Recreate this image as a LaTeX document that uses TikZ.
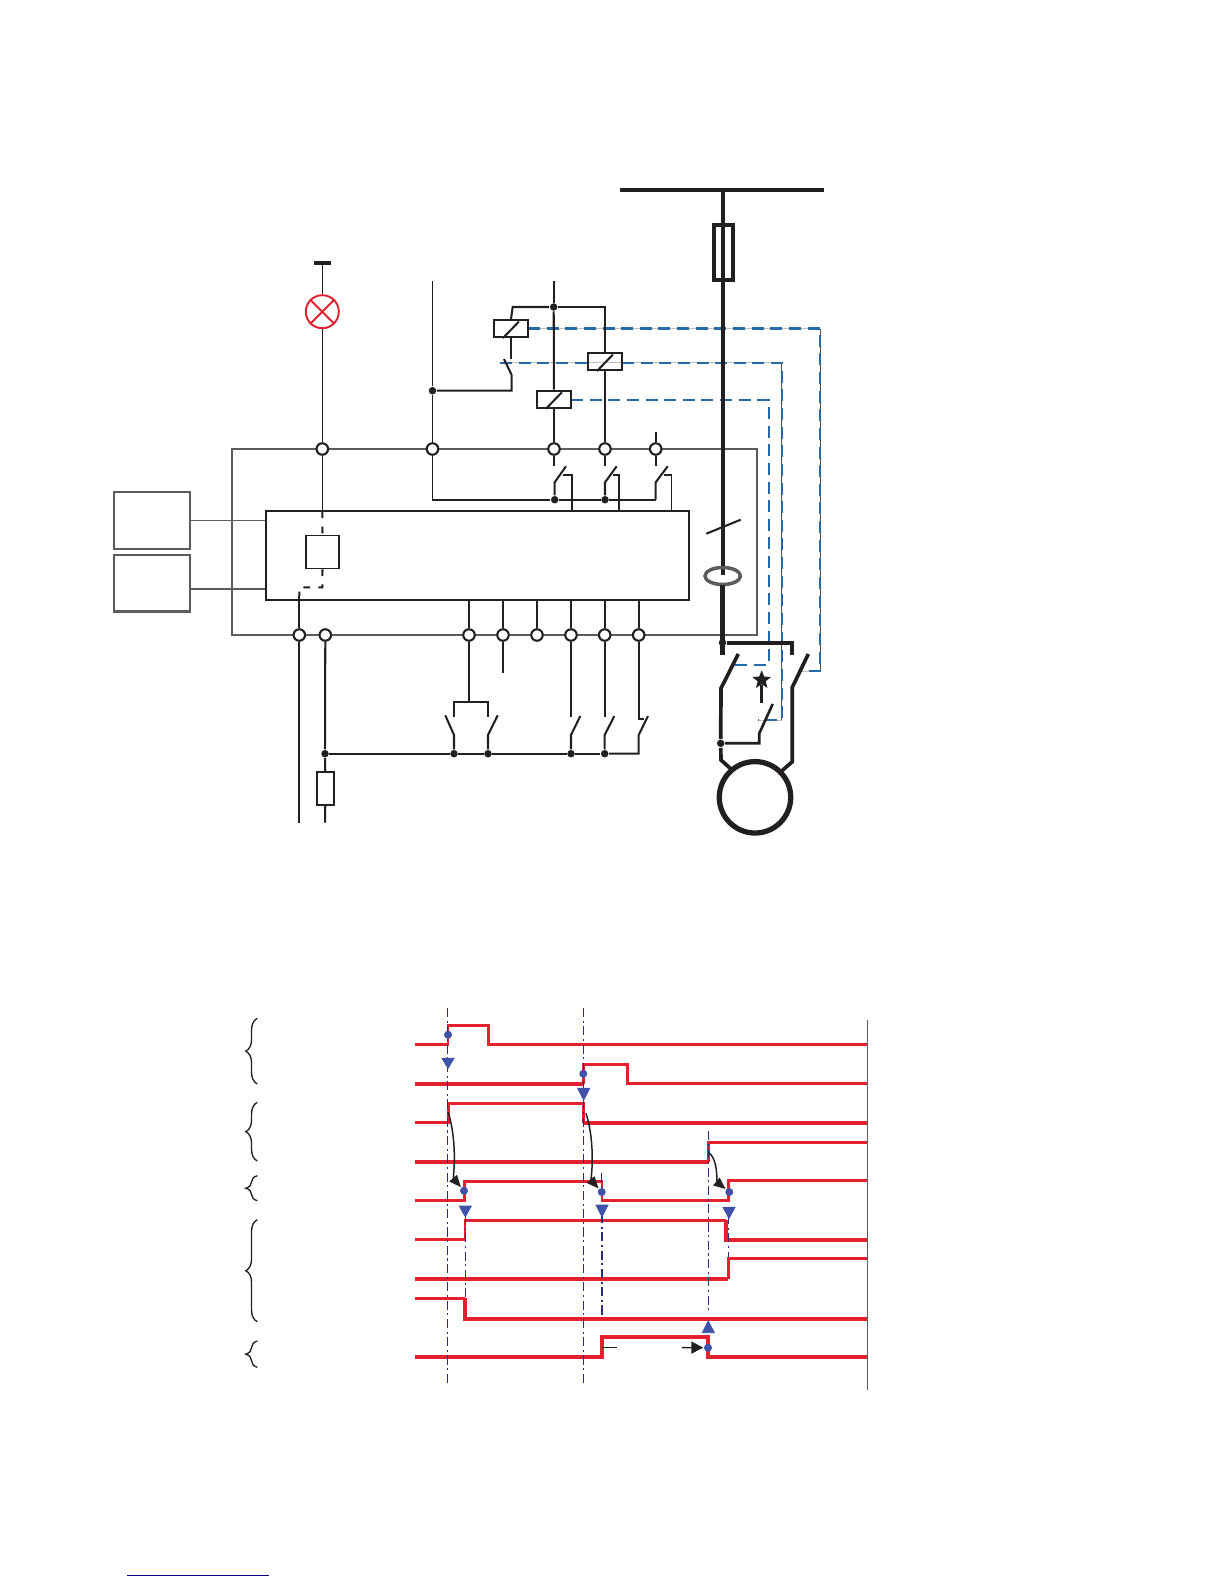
\documentclass[tikz,border=0pt]{standalone}
\usetikzlibrary{shapes.geometric,arrows.meta,decorations.pathreplacing}
\definecolor{tracered}{HTML}{E2202E}
\definecolor{markblue}{HTML}{3F51A8}
\definecolor{linkblue}{HTML}{2469A8}
\definecolor{cutnavy}{HTML}{2B2B80}
\definecolor{ink}{HTML}{231F20}
\definecolor{framegray}{HTML}{5C5C5E}
\begin{document}
\begin{tikzpicture}[x=0.01cm,y=-0.01cm]

    \tikzset{
      wire/.style={color=ink,line width=0.58pt},
      finewire/.style={color=ink,line width=0.42pt},
      power/.style={color=ink,line width=1.05pt},
      mainbus/.style={color=ink,line width=1.2pt},
      frame/.style={color=framegray,line width=0.6pt},
      linkdash/.style={color=linkblue,line width=0.6pt,dash pattern=on 3.4pt off 1.9pt},
      linkback/.style={color=black!70,line width=0.16pt},
      linkpale/.style={color=black!25,line width=0.2pt},
      inner/.style={wire,dash pattern=on 1.9pt off 2.4pt},
      terminal/.style={circle,draw=ink,fill=white,line width=0.6pt,inner sep=0pt,minimum size=1.15mm},
      joint/.style={circle,fill=ink,inner sep=0pt,minimum size=0.75mm},
      coil/.style={rectangle,draw=ink,line width=0.62pt,inner sep=0pt,minimum width=3.4mm,minimum height=1.7mm},
      sidebox/.style={rectangle,draw=framegray,line width=0.6pt,inner sep=0pt,minimum width=7.6mm,minimum height=5.65mm},
      trace/.style={color=tracered,line width=0.85pt},
      tracethick/.style={color=tracered,line width=1.1pt},
      cut/.style={color=cutnavy,line width=0.3pt,dash pattern=on 2.6pt off 1pt on 0.6pt off 1pt},
      marker/.style={circle,fill=markblue,inner sep=0pt,minimum size=0.8mm},
      pointer/.style={fill=markblue,draw=markblue,line width=0.25pt},
      delay/.style={color=ink,line width=0.42pt,-{Triangle[length=3.4pt,width=2.8pt]}},
      curly/.style={color=ink,line width=0.38pt,decorate,decoration={brace,amplitude=1.15mm}},
    }
    \useasboundingbox (0,0) rectangle (1224,1584);

    \draw[frame] (232,449) rectangle (757,635);

    \draw[linkpale] (528,328.5)--(820,328.5);
    \draw[linkback] (820,328.5)--(820,671);
    \draw[linkpale] (820,671)--(798,671);
    \draw[linkpale] (500,362.7)--(781.7,362.7);
    \draw[linkback] (781.7,362.7)--(781.7,720.3);
    \draw[linkpale] (781.7,720.3)--(758,720.3);
    \draw[linkdash] (528,328.5)--(820,328.5)--(820,671)--(798,671);
    \draw[linkdash] (500,362.7)--(588,362.7);
    \draw[linkdash] (622,362.7)--(781.7,362.7)--(781.7,720.3)--(758,720.3);
    \draw[linkdash] (571,400)--(769,400)--(769,664.7)--(731.7,664.7);

    \node[terminal] (ttop1) at (322.3,449) {};
    \node[terminal] (ttop2) at (432.5,449) {};
    \node[terminal] (ttop3) at (554,449) {};
    \node[terminal] (ttop4) at (605,449) {};
    \node[terminal] (ttop5) at (655.7,449) {};
    \node[terminal] (tlow1) at (299.3,635) {};
    \node[terminal] (tlow2) at (325.3,635) {};
    \node[terminal] (tlow3) at (469,635) {};
    \node[terminal] (tlow4) at (503,635) {};
    \node[terminal] (tlow5) at (537,635) {};
    \node[terminal] (tlow6) at (571,635) {};
    \node[terminal] (tlow7) at (604.7,635) {};
    \node[terminal] (tlow8) at (638.7,635) {};

    \node[rectangle,fill=ink,inner sep=0pt,minimum width=1.7mm,minimum height=0.4mm] (lampbar) at (322.3,262.7) {};
    \node[circle,draw=tracered,line width=0.55pt,inner sep=0pt,minimum size=3.3mm] (lamp) at (322.3,311.7) {};
    \draw[color=tracered,line width=0.55pt] (lamp.45)--(lamp.225);
    \draw[color=tracered,line width=0.55pt] (lamp.135)--(lamp.315);
    \draw[finewire] (lampbar)--(lamp);
    \draw[finewire] (lamp)--(ttop1);

    \node[rectangle,draw=ink,line width=0.62pt,inner sep=0pt,minimum width=42.3mm,minimum height=8.9mm] (relay) at (477.5,555.5) {};
    \node[rectangle,draw=ink,line width=0.48pt,inner sep=0pt,minimum size=3.3mm] (output) at (322.5,552) {};
    \draw[finewire] (ttop1)--(ttop1 |- relay.north);
    \draw[inner] (322.3,511.5)--(output.north);
    \draw[inner] (output.south)--(322.3,587.3)--(299.3,587.3)--(299.3,596);
    \draw[wire] (299.3,596)--(tlow1);

    \node[sidebox] (boxa) at (152,520.5) {};
    \node[sidebox] (boxb) at (152,583.2) {};
    \coordinate (linkb) at (190,589);
    \draw[color=framegray,line width=0.36pt] (boxa.east)--(boxa.east -| relay.west);
    \draw[color=framegray,line width=0.55pt] (linkb)--(linkb -| relay.west);

    \node[joint] (jtop) at (553.7,307) {};
    \node[joint] (jside) at (432.5,390.7) {};
    \node[coil] (coila) at (511,328.5) {};
    \node[coil] (coilb) at (554,399.2) {};
    \node[coil] (coilc) at (605,361.5) {};
    \draw[wire] (coila.south west)++(10,0)--+(16,-16.5);
    \draw[wire] (coilb.south west)++(10,0)--+(16,-16.5);
    \draw[wire] (coilc.south west)++(10,0)--+(16,-16.5);
    \draw[wire] (553.7,281)--(jtop);
    \draw[wire] (jtop)--(coilb);
    \draw[wire] (coilb)--(ttop3);
    \draw[wire] (coila.north)--(512.7,307)--(jtop);
    \draw[wire] (jtop)--(605,307)--(coilc.north);
    \draw[wire] (coilc)--(ttop4);
    \draw[wire] (coila.south)--(511,358.7);
    \draw[wire] (504,359)--(511.7,375)--(511.7,390.7)--(jside);
    \draw[finewire] (432.5,281)--(jside);
    \draw[finewire] (jside)--(ttop2);

    \node[joint] (jcon1) at (554.7,499.7) {};
    \node[joint] (jcon2) at (605,499.7) {};
    \draw[finewire] (ttop2)--(432.5,499.7);
    \draw[wire] (432.2,499.7)--(jcon1);
    \draw[wire] (jcon1)--(jcon2);
    \draw[wire] (jcon2)--(655.7,499.7);
    \draw[wire] (ttop3)--(554,465.7);
    \draw[wire] (ttop4)--(605,465.7);
    \draw[wire] (655.7,432.3)--(ttop5);
    \draw[wire] (ttop5)--(655.7,465.7);
    \draw[wire] (jcon1)--(554.7,482.3)--(566,466.3);
    \draw[wire] (jcon2)--(605,482.3)--(616.7,466.3);
    \draw[wire] (655.7,499.7)--(655.7,482.3)--(667.7,466.3);
    \draw[wire] (562.7,475)--(572,475)--(572,511);
    \draw[wire] (613.3,475)--(619,475)--(619,511);
    \draw[finewire] (664,475)--(671.3,475)--(671.3,511);

    \draw[wire] (tlow3)--(tlow3 |- relay.south);
    \draw[wire] (tlow4)--(tlow4 |- relay.south);
    \draw[wire] (tlow5)--(tlow5 |- relay.south);
    \draw[wire] (tlow6)--(tlow6 |- relay.south);
    \draw[wire] (tlow7)--(tlow7 |- relay.south);
    \draw[wire] (tlow8)--(tlow8 |- relay.south);

    \node[joint] (jbot1) at (325,753.7) {};
    \node[joint] (jbot2) at (454,753.7) {};
    \node[joint] (jbot3) at (488,753.7) {};
    \node[joint] (jbot4) at (571,753.7) {};
    \node[joint] (jbot5) at (604.7,753.7) {};
    \node[rectangle,draw=ink,line width=0.5pt,inner sep=0pt,minimum width=1.7mm,minimum height=3.3mm] (fusectl) at (325.5,788.5) {};
    \draw[wire] (tlow1)--(299.3,822.5);
    \draw[wire] (tlow2)--(jbot1);
    \draw[wire] (jbot1)--(fusectl);
    \draw[wire] (fusectl)--(325,822.5);
    \draw[wire] (jbot1)--(jbot2);
    \draw[wire] (jbot2)--(jbot3);
    \draw[wire] (jbot3)--(jbot4);
    \draw[wire] (jbot4)--(jbot5);
    \draw[wire] (jbot5)--(638.7,753.7)--(638.7,735)--(648,716);
    \draw[wire] (tlow3)--(469,701.7);
    \draw[wire] (454,717.3)--(454,701.7)--(488,701.7)--(488,717.3);
    \draw[wire] (jbot2)--(454,735)--(445.3,715.3);
    \draw[wire] (jbot3)--(488,735)--(497.7,715.3);
    \draw[wire] (tlow4)--(503,673.3);
    \draw[wire] (tlow6)--(571,716.7);
    \draw[wire] (tlow7)--(604.7,716.7);
    \draw[wire] (tlow8)--(638.7,719.3)--(644,719.3);
    \draw[wire] (jbot4)--(571,735)--(580.3,716);
    \draw[wire] (jbot5)--(604.7,735)--(614.3,716);

    \draw[mainbus] (620,189.7)--(824,189.7);
    \node[rectangle,draw=ink,line width=1.05pt,inner sep=0pt,minimum width=1.86mm,minimum height=5.5mm] (fusemain) at (723.5,252.3) {};
    \node[circle,fill=ink,inner sep=0pt,minimum size=0.75mm] (jmain) at (722.5,642.7) {};
    \node[circle,fill=ink,inner sep=0pt,minimum size=0.75mm] (jmotor) at (720.7,743.3) {};
    \node[circle,draw=ink,line width=1.5pt,inner sep=0pt,minimum size=7.14mm] (motor) at (755,797.3) {};
    \node[star,star points=5,star point ratio=2.3,fill=ink,inner sep=0pt,minimum size=1.95mm] (trip) at (761.7,680) {};
    \draw[mainbus] (723,189.7)--(723,575);
    \draw[color=framegray,line width=1pt] (722.7,576) ellipse (17.7 and 8.5);
    \draw[mainbus] (722.5,585)--(722.5,655);
    \draw[wire] (706.3,533.7)--(740.7,519.7);
    \draw[power] (jmain)--(792.3,642.7)--(792.3,655);
    \draw[power] (738.3,654)--(721,688.3)--(jmotor);
    \draw[power] (jmotor)--(721,760)--(731,769);
    \draw[power] (808.3,654)--(792.3,687.3)--(792.3,761.7)--(781.7,771);
    \draw[color=ink,line width=0.75pt] (jmotor)--(759.3,743.3)--(759.3,733.3)--(772.7,704);
    \draw[color=ink,line width=1pt] (trip.south)--(761.7,702.7);

    \draw[trace] (415,1044.5)--(448,1044.5)--(448,1025)--(488.7,1025)--(488.7,1044.7)--(867,1044.7);
    \draw[tracethick] (415,1084)--(583.3,1084);
    \draw[trace] (583.3,1084)--(583.3,1064)--(627.7,1064)--(627.7,1083.3)--(867,1083.3);
    \draw[trace] (415,1122.7)--(448.3,1122.7)--(448.3,1103.7)--(583.3,1103.7)--(583.3,1123);
    \draw[tracethick] (583.3,1123)--(867,1123);
    \draw[tracethick] (415,1162)--(708.3,1162);
    \draw[trace] (708.3,1162)--(708.3,1142.3)--(867,1142.3);
    \draw[trace] (415,1200.7)--(464.3,1200.7)--(464.3,1181.3)--(602,1181.3)--(602,1200.7)--(728.3,1200.7)--(728.3,1180.3)--(867,1180.3);
    \draw[trace] (415,1239.3)--(465,1239.3)--(465,1220.3)--(726,1220.3);
    \draw[tracethick] (726,1220.3)--(726,1240)--(867,1240);
    \draw[tracethick] (415,1279)--(728.3,1279);
    \draw[trace] (728.3,1279)--(728.3,1258.3)--(867,1258.3);
    \draw[trace] (415,1298.3)--(465,1298.3);
    \draw[tracethick] (465,1298.3)--(465,1318.7)--(867,1318.7);
    \draw[tracethick] (415,1356.7)--(601.7,1356.7)--(601.7,1337)--(708,1337)--(708,1356.7)--(867,1356.7);
    \draw[color=framegray,line width=0.5pt] (867.5,1019.6)--(867.5,1390);

    \draw[cut] (447.3,1008)--(447.3,1384.7);
    \draw[cut] (583.3,1008)--(583.3,1384.7);
    \draw[cut] (708.3,1131)--(708.3,1310);
    \draw[cut] (465.3,1215)--(465.3,1300);
    \draw[cut] (601.7,1173)--(601.7,1190);
    \draw[cut,line width=0.55pt] (601.7,1214)--(601.7,1318);
    \draw[cut] (728.3,1215)--(728.3,1257);

    \fill[pointer] (442,1058.3)--(454,1058.3)--(448,1068.3)--cycle;
    \fill[pointer] (577.7,1088.3)--(589.7,1088.3)--(583.7,1100)--cycle;
    \fill[pointer] (459.3,1206)--(471.3,1206)--(465.3,1216.7)--cycle;
    \fill[pointer] (596,1205)--(608,1205)--(602,1216.7)--cycle;
    \fill[pointer] (723,1207.3)--(735,1207.3)--(729,1218.3)--cycle;
    \fill[pointer] (702.3,1332.7)--(714.3,1332.7)--(708.3,1321)--cycle;

    \node[marker] (dota) at (448,1034.7) {};
    \node[marker] (dotb) at (583.3,1073.7) {};
    \node[marker] (dotc) at (464,1190.7) {};
    \node[marker] (dotd) at (601.7,1192) {};
    \node[marker] (dote) at (729.3,1192) {};
    \node[marker] (dotf) at (708,1347.7) {};
    \coordinate (starta) at (448.3,1112.3);
    \coordinate (startb) at (586,1113.3);
    \coordinate (startc) at (708.3,1152.3);
    \coordinate (startd) at (682,1347.5);
    \coordinate (starte) at (602.3,1347.5);
    \draw[delay] (starta) .. controls (458,1145) and (453,1178) .. (dotc);
    \draw[delay] (startb) .. controls (596,1145) and (591,1180) .. (dotd);
    \draw[delay] (startc) .. controls (718,1158) and (717,1182) .. (dote);
    \draw[delay,-{Triangle[length=3.4pt,width=3.4pt]}] (startd)--(dotf);
    \draw[finewire] (starte)--(616.7,1347.5);

    \draw[curly] (257.3,1084)--(257.3,1018.3);
    \draw[curly] (257.3,1161)--(257.3,1102.3);
    \draw[curly] (257.3,1200.7)--(257.3,1175.7);
    \draw[curly] (257.3,1321.7)--(257.3,1219.7);
    \draw[curly] (257.3,1367.3)--(257.3,1341);

    \draw[color=blue!55!black,line width=0.4pt] (127,1575.3)--(269,1575.3);

\end{tikzpicture}
\end{document}
